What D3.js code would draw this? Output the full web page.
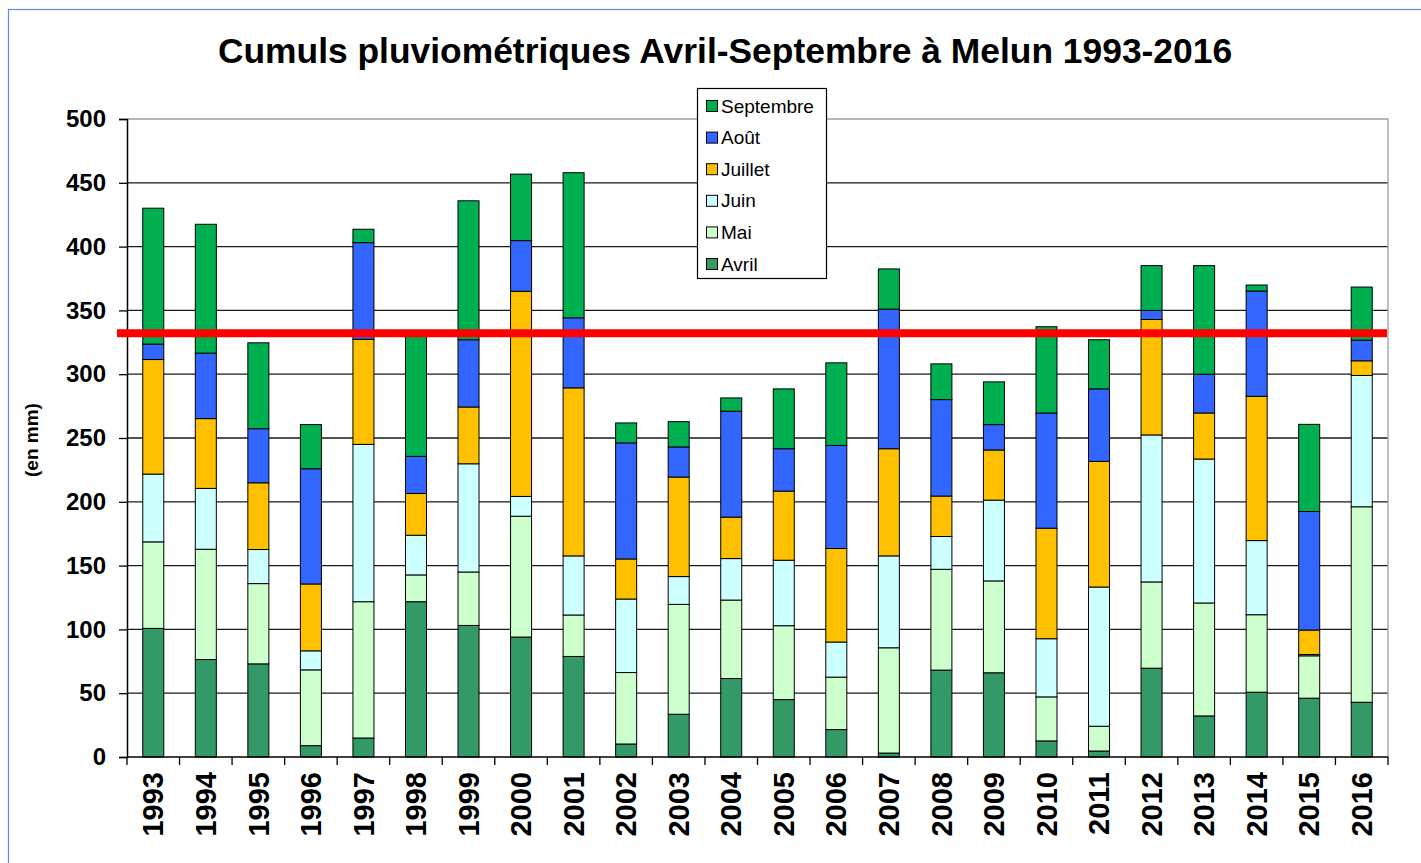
<!DOCTYPE html>
<html>
<head>
<meta charset="utf-8">
<script src="https://d3js.org/d3.v7.min.js"></script>
<style>
  body { margin: 0; background: #fff; }
  svg { display: block; font-family: "Liberation Sans", Arial, sans-serif; }
</style>
</head>
<body>
<svg id="chart" width="1421" height="863"></svg>
<script>
// cumuls mensuels (mm)
var years = ["1993","1994","1995","1996","1997","1998","1999","2000","2001","2002","2003","2004",
             "2005","2006","2007","2008","2009","2010","2011","2012","2013","2014","2015","2016"];
var avril     = [100.8, 76.4, 73.0,  8.9, 14.9,121.7,103.1, 94.0, 78.8, 10.2, 33.5, 61.5, 45.0, 21.5,  3.1, 68.1, 66.0, 12.6,  4.7, 69.6, 32.2, 50.8, 46.1, 42.9];
var mai       = [ 67.8, 86.4, 62.9, 59.4,106.8, 21.0, 41.9, 94.7, 32.5, 56.0, 86.1, 61.5, 57.9, 41.1, 82.5, 79.0, 72.0, 34.5, 19.4, 67.6, 88.5, 60.7, 33.2,153.2];
var juin      = [ 53.1, 47.7, 26.7, 14.9,123.3, 31.1, 84.8, 15.5, 46.3, 57.6, 21.8, 32.5, 51.3, 27.5, 72.0, 25.7, 63.3, 45.6,109.1,115.2,112.8, 58.1,  1.0,102.9];
var juillet   = [ 89.8, 54.7, 52.3, 52.4, 82.4, 32.7, 44.5,160.8,131.7, 31.4, 78.0, 32.5, 54.2, 73.3, 84.0, 31.7, 39.3, 86.6, 98.5, 90.5, 36.1,113.1, 19.2, 11.5];
var aout      = [ 12.1, 51.3, 42.4, 90.3, 75.7, 29.1, 52.7, 39.7, 54.9, 91.0, 23.6, 83.0, 33.2, 80.8,109.4, 75.6, 19.9, 90.3, 56.8,  7.1, 30.4, 82.5, 92.9, 16.2];
var septembre = [106.5,101.0, 67.3, 34.6, 10.5, 94.4,108.9, 52.1,113.7, 15.6, 19.8, 10.4, 46.9, 64.7, 31.5, 28.0, 33.5, 67.6, 38.5, 35.1, 85.1,  4.7, 68.3, 41.6];
var moyenne = 332;
var yTicks = [0, 50, 100, 150, 200, 250, 300, 350, 400, 450, 500];

var months = ["Avril", "Mai", "Juin", "Juillet", "Août", "Septembre"];
var colors = {"Avril": "#339966", "Mai": "#ccffcc", "Juin": "#ccffff",
              "Juillet": "#ffc000", "Août": "#3366ff", "Septembre": "#00b050"};

var table = years.map(function(y, i) {
  return {year: y, "Avril": avril[i], "Mai": mai[i], "Juin": juin[i],
          "Juillet": juillet[i], "Août": aout[i], "Septembre": septembre[i]};
});

var svg = d3.select("#chart");

// cadre bleu
svg.append("rect")
    .attr("x", 8.5).attr("y", 9.5)
    .attr("width", 1430).attr("height", 900)
    .attr("fill", "none").attr("stroke", "#5f8dd3").attr("stroke-width", 1.2);

var pLeft = 127, pRight = 1388, pTop = 119, pBottom = 757;

var x = d3.scaleBand()
    .domain(years)
    .range([pLeft, pRight])
    .paddingInner(0.6)
    .paddingOuter(0.3);

var y = d3.scaleLinear()
    .domain([0, 500])
    .range([pBottom, pTop]);

// titre
svg.append("text")
    .attr("x", 725).attr("y", 63)
    .attr("text-anchor", "middle")
    .attr("font-size", 35.4).attr("font-weight", "bold")
    .text("Cumuls pluviométriques Avril-Septembre à Melun 1993-2016");

// quadrillage
svg.append("g").selectAll("line")
    .data(yTicks.filter(function(d) { return d > 0 && d < 500; }))
    .enter().append("line")
      .attr("x1", pLeft).attr("x2", pRight)
      .attr("y1", function(d) { return y(d); })
      .attr("y2", function(d) { return y(d); })
      .attr("stroke", "#1a1a1a").attr("stroke-width", 1.3);

// bord de la zone de tracé
svg.append("path")
    .attr("d", "M" + pLeft + "," + y(500) + "H" + pRight + "V" + pBottom)
    .attr("fill", "none").attr("stroke", "#a0a0a0").attr("stroke-width", 1.3);

// barres empilées
var series = d3.stack().keys(months)(table);

svg.append("g").selectAll("g")
  .data(series)
  .enter().append("g")
    .attr("fill", function(d) { return colors[d.key]; })
  .selectAll("rect")
  .data(function(d) { return d; })
  .enter().append("rect")
    .attr("x", function(d) { return x(d.data.year); })
    .attr("y", function(d) { return y(d[1]); })
    .attr("width", x.bandwidth())
    .attr("height", function(d) { return y(d[0]) - y(d[1]); })
    .attr("stroke", "#000").attr("stroke-width", 1);

// axe Y
var yAxis = svg.append("g")
    .attr("transform", "translate(" + pLeft + ",0)")
    .call(d3.axisLeft(y).tickValues(yTicks).tickSize(8).tickPadding(13));
yAxis.select(".domain").attr("stroke", "#000").attr("stroke-width", 1.5);
yAxis.selectAll(".tick line").attr("stroke", "#000").attr("stroke-width", 1.3);
yAxis.selectAll("text")
    .attr("font-size", 24).attr("font-weight", "bold")
    .attr("font-family", "Liberation Sans, Arial, sans-serif").attr("fill", "#000");

// axe X : graduations entre les catégories
var step = x.step();
var bounds = d3.range(years.length + 1).map(function(i) { return pLeft + i * step; });
svg.append("line")
    .attr("x1", pLeft).attr("x2", pRight)
    .attr("y1", pBottom).attr("y2", pBottom)
    .attr("stroke", "#000").attr("stroke-width", 1.5);
svg.append("g").selectAll("line")
    .data(bounds)
    .enter().append("line")
      .attr("x1", function(d) { return d; }).attr("x2", function(d) { return d; })
      .attr("y1", pBottom).attr("y2", pBottom + 8)
      .attr("stroke", "#000").attr("stroke-width", 1.3);

svg.append("g").selectAll("text")
    .data(years)
    .enter().append("text")
      .attr("transform", function(d) {
        return "translate(" + (x(d) + x.bandwidth() / 2) + "," + (pBottom + 15) + ") rotate(-90)";
      })
      .attr("text-anchor", "end")
      .attr("dy", "0.35em")
      .attr("font-size", 29).attr("font-weight", "bold")
      .text(function(d) { return d; });

// titre axe Y
svg.append("text")
    .attr("transform", "translate(31,440) rotate(-90)")
    .attr("text-anchor", "middle")
    .attr("dy", "0.35em")
    .attr("font-size", 19).attr("font-weight", "bold")
    .text("(en mm)");

// ligne rouge (moyenne)
svg.append("line")
    .attr("x1", pLeft - 10).attr("x2", pRight - 1)
    .attr("y1", y(moyenne)).attr("y2", y(moyenne))
    .attr("stroke", "#ff0000").attr("stroke-width", 8);

// légende
var legend = svg.append("g").attr("transform", "translate(697,88)");
legend.append("rect")
    .attr("x", 0.5).attr("y", 0.5)
    .attr("width", 129).attr("height", 190)
    .attr("fill", "#fff").attr("stroke", "#000").attr("stroke-width", 1.2);

var items = legend.selectAll("g.item")
    .data(months.slice().reverse())
    .enter().append("g")
      .attr("class", "item")
      .attr("transform", function(d, i) { return "translate(0," + (18 + i * 31.6) + ")"; });
items.append("rect")
    .attr("x", 9.5).attr("y", -5.5)
    .attr("width", 11).attr("height", 11)
    .attr("fill", function(d) { return colors[d]; })
    .attr("stroke", "#000").attr("stroke-width", 1);
items.append("text")
    .attr("x", 24).attr("dy", "0.35em")
    .attr("font-size", 19)
    .text(function(d) { return d; });
</script>
</body>
</html>
